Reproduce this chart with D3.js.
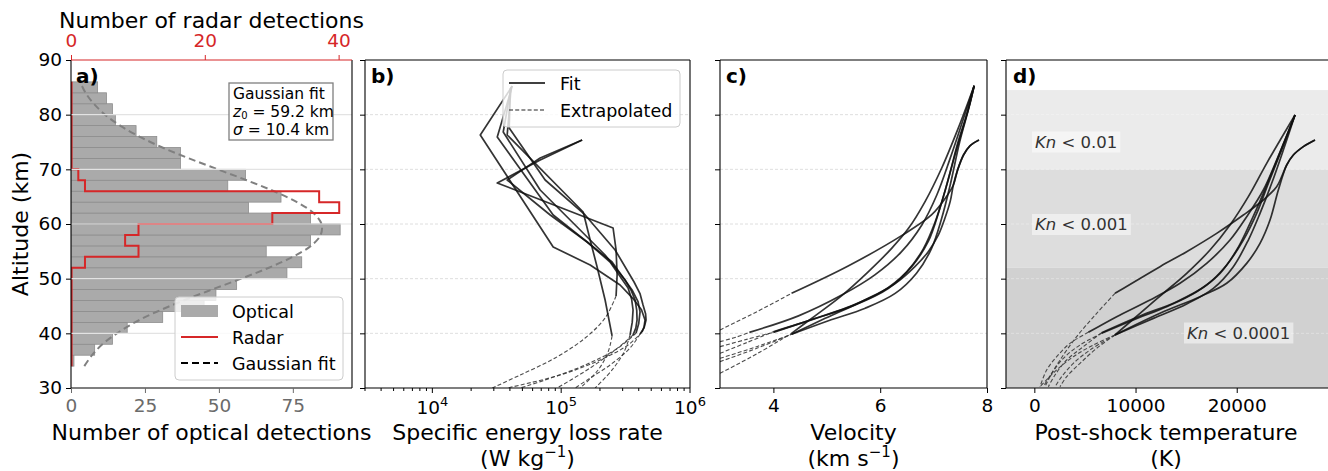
<!DOCTYPE html>
<html>
<head>
<meta charset="utf-8">
<script src="https://cdn.jsdelivr.net/npm/d3@7"></script>
<style>
body { margin: 0; background: #fff; }
svg { font-family: "DejaVu Sans", sans-serif; }
</style>
</head>
<body>
<svg id="chart" width="1328" height="471"></svg>
<script>
// ---- data ----
const binEdges = [34,36,38,40,42,44,46,48,50,52,54,56,58,60,62,64,66,68,70,72,74,76,78,80,82,84,86]
const opticalCounts = [1,8,14,19,31,45,49,56,73,78,66,81,91,81,60,71,53,59,37,37,29,22,15,14,12,9]
const radarCounts = [0,0,0,0,0,0,0,0,0,2,10,8,10,30,40,37,2,1,0,0,0,0,0,0,0,0]

// gaussian fit curve (z0 = 59.2 km, sigma = 10.4 km) sampled every 2 km
const gaussAlt = [34,36,38,40,42,44,46,48,50,52,54,56,58,60,62,64,66,68,70,72,74,76,78,80,82,84,86]
const gaussCounts = [4.5,7.1,10.6,15.5,21.6,29.2,38.0,47.6,57.5,66.9,75.0,81.1,84.4,84.7,82.0,76.4,68.6,59.4,49.6,39.9,30.9,23.1,16.6,11.5,7.7,4.9,3.1]

const altTicks = [30,40,50,60,70,80,90]
const opticalTicks = [0,25,50,75]
const radarTicks = [0,20,40]
const velocityTicks = [4,6,8]
const tempTicks = [0,10000,20000]
const energyTicks = [1e4,1e5,1e6]

// [value, altitude] pairs per meteor
const energyFit = [
  [[41700,85.24],[23550,76.28],[86700,55.8],[167900,52.5],[286700,48.84],[360000,46.4],[420000,44.3],[447700,42.44],[440000,41.2],[424600,40.25]],
  [[41700,85.24],[31900,75.92],[86700,61.65],[159100,56.71],[248400,53.05],[355000,47.93],[395000,45.8],[409500,43.91],[400000,41.8],[381300,40.06]],
  [[40900,85.06],[38100,76.28],[148200,62.2],[167900,57.08],[190100,52.14],[219300,46.1],[248400,39.52]],
  [[40300,84.88],[39500,77.56],[75100,68.05],[153500,61.65],[262300,55.25],[367900,49.39],[410000,47.2],[432000,45.19],[452000,43.6],[455800,42.44],[440000,41.0],[409500,39.88]],
  [[40900,85.06],[35500,76.83],[68700,66.22],[128400,59.82],[219300,54.33],[313500,49.76],[350000,47.8],[374800,46.1],[386000,44.2],[388200,42.44],[380000,41.0],[361400,39.7]],
  [[145500,75.37],[68700,71.71],[31900,67.5],[252900,59.27],[266800,55.25],[271800,50.67],[266800,46.83]],
  [[145500,75.37],[68700,72.07],[38100,68.05],[82200,61.65],[159100,56.71],[239700,53.05],[330600,48.3],[352000,46.3],[361400,44.27],[356000,42.0],[342600,39.7]]
]
const energyExtrap = [
  [[424600,40.25],[330600,37.87],[200600,35.13],[98200,32.38],[38100,30.0]],
  [[381300,40.06],[276700,37.32],[153500,34.21],[75100,31.47],[48100,30.0]],
  [[248400,39.52],[231300,36.59],[193600,33.3],[140400,30.0]],
  [[409500,39.88],[342600,37.32],[239700,34.21],[167900,31.83],[128400,30.0]],
  [[361400,39.7],[262300,36.95],[167900,33.66],[93100,30.0]],
  [[266800,46.83],[219300,42.81],[153500,39.15],[89800,35.5],[48100,32.38],[29200,30.0]],
  [[342600,39.7],[307600,36.59],[248400,33.3],[183600,30.0]]
]

const velocityFit = [
  [[4.34,47.32],[5.40,52.32],[6.40,57.87],[6.96,61.65],[7.24,65.0],[7.37,67.13],[7.45,69.9],[7.56,72.62],[7.68,74.3],[7.85,75.37]],
  [[4.34,39.82],[4.97,42.74],[5.65,45.8],[6.28,49.1],[6.65,52.2],[6.90,54.94],[7.09,58.0],[7.21,61.0],[7.31,64.09],[7.37,67.13],[7.45,69.9],[7.56,72.62],[7.68,74.3],[7.85,75.37]],
  [[3.55,40.18],[4.47,43.2],[5.28,47.0],[5.90,50.7],[6.40,54.94],[6.78,59.82],[7.06,65.3],[7.31,72.0],[7.56,79.3],[7.76,85.3]],
  [[4.0,40.18],[4.65,42.3],[5.40,44.8],[6.03,47.6],[6.50,51.3],[6.81,55.5],[7.03,60.4],[7.21,65.9],[7.40,72.6],[7.60,79.3],[7.76,85.3]],
  [[4.0,40.3],[4.78,42.7],[5.53,45.2],[6.15,48.2],[6.59,52.2],[6.90,56.8],[7.10,62.3],[7.28,68.4],[7.46,75.1],[7.64,80.6],[7.76,85.3]],
  [[4.34,40.0],[4.78,43.2],[5.28,46.9],[5.78,51.3],[6.21,55.5],[6.53,59.2],[6.84,64.1],[7.15,70.2],[7.46,77.5],[7.76,85.3]],
  [[4.34,39.82],[5.03,42.3],[5.72,44.6],[6.28,47.3],[6.68,51.0],[6.96,55.5],[7.15,61.0],[7.31,67.1],[7.49,75.1],[7.66,81.2],[7.76,85.3]]
]
const velocityExtrap = [
  [[3.0,40.61],[3.7,44.0],[4.34,47.32]],
  [[3.0,34.82],[3.7,37.3],[4.34,39.82]],
  [[3.0,38.48],[3.3,39.3],[3.55,40.18]],
  [[3.0,37.56],[3.5,38.9],[4.0,40.18]],
  [[3.0,36.34],[3.5,38.3],[4.0,40.3]],
  [[3.0,32.68],[3.7,36.3],[4.34,40.0]],
  [[3.0,35.43],[3.7,37.6],[4.34,39.82]]
]

const tempFit = [
  [[7971,47.32],[12418,52.2],[15054,54.94],[18018,58.29],[20653,61.65],[22630,64.39],[23947,66.83],[24441,68.66],[24936,70.79],[25594,72.62],[26583,74.15],[27735,75.37]],
  [[7971,39.7],[12418,43.66],[16371,46.71],[19006,49.15],[20983,52.8],[22300,56.46],[23289,60.73],[24112,66.22],[24936,70.79],[25594,72.62],[26583,74.15],[27735,75.37]],
  [[5336,40.18],[8136,43.05],[11430,46.1],[14395,49.15],[17030,52.8],[19336,57.07],[20983,61.34],[22630,66.22],[23947,71.71],[25759,79.94]],
  [[6654,40.0],[9783,42.44],[13077,44.88],[16042,47.62],[18348,50.98],[19995,55.24],[21312,60.12],[22630,65.61],[24112,72.32],[25759,79.94]],
  [[6654,40.12],[10442,43.17],[14065,45.79],[17030,48.84],[19006,52.5],[20653,57.07],[21971,61.95],[23124,67.44],[24441,73.54],[25759,79.94]],
  [[7971,39.7],[10442,43.66],[12748,47.32],[15054,50.98],[17359,55.24],[19336,59.82],[21147,65.0],[22959,71.1],[25759,79.94]],
  [[7971,39.7],[11760,42.74],[15054,45.37],[17689,48.23],[19665,52.2],[21147,57.07],[22300,61.95],[23453,67.44],[24606,73.54],[25759,79.94]]
]
const tempExtrap = [
  [[7971,47.32],[6160,43.66],[4183,39.39],[2536,35.12],[1548,32.07],[1054,30.24]],
  [[7971,39.7],[5830,37.87],[3854,35.73],[2207,33.3],[1054,31.2],[560,30.24]],
  [[5336,40.18],[3525,38.17],[2207,35.73],[1219,33.29],[560,30.24]],
  [[6654,40.0],[4513,37.87],[2866,35.43],[1713,32.68],[889,30.24]],
  [[6654,40.12],[4842,37.56],[3195,35.12],[2042,32.38],[1383,30.24]],
  [[7971,39.7],[5501,36.95],[3854,34.51],[2701,32.07],[2042,30.24]],
  [[7971,39.7],[6160,37.26],[4513,34.51],[3195,32.07],[2536,30.24]]
]

// Knudsen regimes: [top, bottom] altitude, label
const knBands = [[84.5,70],[70,52],[52,30]]
const knColors = ["#ebebeb","#dddddd","#d1d1d1"]
const knLabels = ["0.01","0.001","0.0001"]

// ---- layout ----
const svg = d3.select("#chart")
const yTop = 60, yBot = 388
const y = d3.scaleLinear().domain([30,90]).range([yBot,yTop])

const xa = d3.scaleLinear().domain([0,95]).range([71,352])
const xr = d3.scaleLinear().domain([0,42]).range([71,352])
const xb = d3.scaleLog().domain([3000,1e6]).range([365,690])
const xc = d3.scaleLinear().domain([3,8]).range([720,987])
const xd = d3.scaleLinear().domain([-2800,28920]).range([1006,1327])

const TICK = 18.5, LABEL = 22

function clip(id, x0, x1) {
  svg.append("clipPath").attr("id", id)
    .append("rect").attr("x", x0).attr("y", yTop).attr("width", x1 - x0).attr("height", yBot - yTop)
}

function leftAxis(x0, labels) {
  const g = svg.append("g").attr("transform", `translate(${x0},0)`)
    .call(d3.axisLeft(y).tickValues(altTicks).tickSize(5).tickPadding(4)
      .tickFormat(labels ? d3.format("d") : ""))
  g.select(".domain").remove()
  g.selectAll("text").attr("font-size", TICK).attr("fill", "#000").attr("font-family", "DejaVu Sans")
  g.selectAll("line").attr("stroke", "#000")
  return g
}

function bottomAxis(scale, ticks, fmt, color) {
  const g = svg.append("g").attr("transform", `translate(0,${yBot})`)
    .call(d3.axisBottom(scale).tickValues(ticks).tickSize(5).tickPadding(6).tickFormat(fmt))
  g.select(".domain").remove()
  g.selectAll("text").attr("font-size", TICK).attr("fill", color || "#000").attr("font-family", "DejaVu Sans")
  g.selectAll("line").attr("stroke", color || "#000")
  return g
}

function gridLines(x0, x1, color, dash, width) {
  svg.append("g").selectAll("line").data(altTicks.slice(1, -1)).join("line")
    .attr("x1", x0).attr("x2", x1)
    .attr("y1", d => y(d)).attr("y2", d => y(d))
    .attr("stroke", color).attr("stroke-width", width || 0.8)
    .attr("stroke-dasharray", dash)
}

function frame(x0, x1, topColor, noRight) {
  const g = svg.append("g").attr("fill", "none").attr("stroke-width", 1.1)
  g.append("line").attr("x1", x0).attr("x2", x0).attr("y1", yTop).attr("y2", yBot).attr("stroke", "#000")
  if (!noRight) g.append("line").attr("x1", x1).attr("x2", x1).attr("y1", yTop).attr("y2", yBot).attr("stroke", "#000")
  g.append("line").attr("x1", x0).attr("x2", x1).attr("y1", yBot).attr("y2", yBot).attr("stroke", "#000")
  g.append("line").attr("x1", x0).attr("x2", x1).attr("y1", yTop).attr("y2", yTop).attr("stroke", topColor || "#000")
}

function panelLetter(x, txt) {
  svg.append("text").attr("x", x).attr("y", 83).attr("font-size", 20).attr("font-weight", "bold").text(txt)
}

function bottomLabel(cx, line1, unitParts) {
  svg.append("text").attr("x", cx).attr("y", 440).attr("text-anchor", "middle")
    .attr("font-size", LABEL).text(line1)
  if (unitParts) {
    const t = svg.append("text").attr("x", cx).attr("y", 466).attr("text-anchor", "middle").attr("font-size", LABEL)
    t.append("tspan").text(unitParts[0])
    if (unitParts[1]) {
      t.append("tspan").attr("dy", -9).attr("font-size", 15).text(unitParts[1])
      t.append("tspan").attr("dy", 9).attr("font-size", LABEL).text(unitParts[2])
    }
  }
}

function drawMeteors(id, scale, fits, extraps, curve) {
  const line = d3.line().x(d => scale(d[0])).y(d => y(d[1])).curve(curve)
  const dashLine = d3.line().x(d => scale(d[0])).y(d => y(d[1])).curve(d3.curveCatmullRom.alpha(0.5))
  const g = svg.append("g").attr("clip-path", `url(#${id})`).attr("fill", "none")
  g.selectAll("path.ex").data(extraps).join("path").attr("class", "ex")
    .attr("d", dashLine).attr("stroke", "#3a3a3a").attr("stroke-width", 1.1)
    .attr("stroke-dasharray", "4,2.2").attr("opacity", 0.9)
  g.selectAll("path.fit").data(fits).join("path").attr("class", "fit")
    .attr("d", line).attr("stroke", "#111").attr("stroke-width", 1.7).attr("opacity", 0.85)
    .attr("stroke-linejoin", "round")
}

// ================= panel a =================
clip("clipA", 71, 352)
const ga = svg.append("g").attr("clip-path", "url(#clipA)")
ga.selectAll("rect.bar").data(opticalCounts).join("rect").attr("class", "bar")
  .attr("x", xa(0))
  .attr("y", (d, i) => y(binEdges[i + 1]))
  .attr("width", d => xa(d) - xa(0))
  .attr("height", (d, i) => y(binEdges[i]) - y(binEdges[i + 1]))
  .attr("fill", "#aaaaaa").attr("stroke", "#8d8d8d").attr("stroke-width", 0.8)

gridLines(71, 352, "#e3e3e3", null, 1.2)

const gaussLine = d3.line().x(d => xa(d[1])).y(d => y(d[0])).curve(d3.curveCatmullRom)
ga.append("path").datum(gaussAlt.map((a, i) => [a, gaussCounts[i]]))
  .attr("d", gaussLine).attr("fill", "none").attr("stroke", "#808080")
  .attr("stroke-width", 2).attr("stroke-dasharray", "7,4")

const stepPts = [[0, binEdges[0]]]
radarCounts.forEach((c, i) => { stepPts.push([c, binEdges[i]]); stepPts.push([c, binEdges[i + 1]]) })
stepPts.push([0, binEdges[binEdges.length - 1]])
ga.append("path").datum(stepPts)
  .attr("d", d3.line().x(d => xr(d[0]) + 0.6).y(d => y(d[1])))
  .attr("fill", "none").attr("stroke", "#d62728").attr("stroke-width", 2)

frame(71, 352, "#d62728")
leftAxis(71, true)
bottomAxis(xa, opticalTicks, d3.format("d"), "#6b6b6b")
const topAx = svg.append("g").attr("transform", `translate(0,${yTop})`)
  .call(d3.axisTop(xr).tickValues(radarTicks).tickSize(5).tickPadding(8))
topAx.select(".domain").remove()
topAx.selectAll("text").attr("font-size", TICK).attr("fill", "#d62728").attr("font-family", "DejaVu Sans")
topAx.selectAll("line").attr("stroke", "#d62728")

svg.append("text").attr("x", 211.5).attr("y", 27.5).attr("text-anchor", "middle")
  .attr("font-size", LABEL).text("Number of radar detections")
bottomLabel(211.5, "Number of optical detections")
svg.append("text").attr("transform", "translate(28,224) rotate(-90)")
  .attr("text-anchor", "middle").attr("font-size", LABEL).text("Altitude (km)")

// legend a
const la = svg.append("g")
la.append("rect").attr("x", 175).attr("y", 297).attr("width", 168).attr("height", 83).attr("rx", 4)
  .attr("fill", "#fff").attr("fill-opacity", 0.8).attr("stroke", "#cccccc")
la.append("rect").attr("x", 181).attr("y", 305).attr("width", 37).attr("height", 12).attr("fill", "#aaaaaa")
la.append("line").attr("x1", 181).attr("x2", 218).attr("y1", 337).attr("y2", 337)
  .attr("stroke", "#d62728").attr("stroke-width", 2)
la.append("line").attr("x1", 181).attr("x2", 218).attr("y1", 363).attr("y2", 363)
  .attr("stroke", "#000").attr("stroke-width", 2).attr("stroke-dasharray", "7,4")
;["Optical", "Radar", "Gaussian fit"].forEach((t, i) => {
  la.append("text").attr("x", 232).attr("y", 317.5 + i * 26).attr("font-size", 17.5).text(t)
})

// fit parameter box
const tb = svg.append("g")
tb.append("rect").attr("x", 229).attr("y", 83).attr("width", 104).attr("height", 57)
  .attr("fill", "#fff").attr("stroke", "#7f7f7f").attr("stroke-width", 1.3)
tb.append("text").attr("x", 233).attr("y", 99).attr("font-size", 15.5).text("Gaussian fit")
const z0 = tb.append("text").attr("x", 233).attr("y", 116.5).attr("font-size", 15.5)
z0.append("tspan").attr("font-style", "italic").text("z")
z0.append("tspan").attr("dy", 2.5).attr("font-size", 10).text("0")
z0.append("tspan").attr("dy", -2.5).text(" = 59.2 km")
const sg = tb.append("text").attr("x", 233).attr("y", 134.5).attr("font-size", 15.5)
sg.append("tspan").attr("font-style", "italic").text("σ")
sg.append("tspan").text(" = 10.4 km")

panelLetter(76, "a)")

// ================= panel b =================
clip("clipB", 365, 690)
gridLines(365, 690, "#d6d6d6", "3,2")
drawMeteors("clipB", xb, energyFit, energyExtrap, d3.curveLinear)
frame(365, 690)
leftAxis(365, false)
const bAx = svg.append("g").attr("transform", `translate(0,${yBot})`)
const minor = []
;[1e3, 1e4, 1e5].forEach(dec => { for (let k = 2; k <= 9; k++) if (dec * k >= 3000) minor.push(dec * k) })
bAx.selectAll("line.minor").data(minor).join("line").attr("class", "minor")
  .attr("x1", d => xb(d)).attr("x2", d => xb(d)).attr("y1", 0).attr("y2", 3).attr("stroke", "#000")
bAx.selectAll("line.major").data(energyTicks).join("line").attr("class", "major")
  .attr("x1", d => xb(d)).attr("x2", d => xb(d)).attr("y1", 0).attr("y2", 5).attr("stroke", "#000")
energyTicks.forEach(v => {
  const t = bAx.append("text").attr("x", xb(v)).attr("y", 25.5).attr("text-anchor", "middle").attr("font-size", TICK)
  t.append("tspan").text("10")
  t.append("tspan").attr("dy", -8).attr("font-size", 13).text(String(Math.round(Math.log10(v))))
})
bottomLabel(527.5, "Specific energy loss rate", ["(W kg", "−1", ")"])

const lb = svg.append("g")
lb.append("rect").attr("x", 503).attr("y", 70).attr("width", 177).attr("height", 57).attr("rx", 4)
  .attr("fill", "#fff").attr("fill-opacity", 0.8).attr("stroke", "#cccccc")
lb.append("line").attr("x1", 509).attr("x2", 545).attr("y1", 83).attr("y2", 83)
  .attr("stroke", "#000").attr("stroke-width", 1.7)
lb.append("line").attr("x1", 509).attr("x2", 545).attr("y1", 110).attr("y2", 110)
  .attr("stroke", "#222").attr("stroke-width", 1.1).attr("stroke-dasharray", "4,2.2")
lb.append("text").attr("x", 560).attr("y", 89.5).attr("font-size", 17.5).text("Fit")
lb.append("text").attr("x", 560).attr("y", 116.5).attr("font-size", 17.5).text("Extrapolated")
panelLetter(371, "b)")

// ================= panel c =================
clip("clipC", 720, 987)
gridLines(720, 987, "#d6d6d6", "3,2")
drawMeteors("clipC", xc, velocityFit, velocityExtrap, d3.curveCatmullRom.alpha(0.5))
frame(720, 987)
leftAxis(720, false)
bottomAxis(xc, velocityTicks, d3.format("d"))
bottomLabel(853.5, "Velocity", ["(km s", "−1", ")"])
panelLetter(726, "c)")

// ================= panel d =================
clip("clipD", 1006, 1328)
const gd = svg.append("g").attr("clip-path", "url(#clipD)")
gd.selectAll("rect").data(knBands).join("rect")
  .attr("x", 1006).attr("width", 322)
  .attr("y", d => y(d[0])).attr("height", d => y(d[1]) - y(d[0]))
  .attr("fill", (d, i) => knColors[i])
gridLines(1006, 1328, "rgba(255,255,255,0.4)", "3,2")
drawMeteors("clipD", xd, tempFit, tempExtrap, d3.curveCatmullRom.alpha(0.5))
frame(1006, 1328, "#000", true)
leftAxis(1006, false)
bottomAxis(xd, tempTicks, d3.format("d"))
bottomLabel(1166, "Post-shock temperature", ["(K)"])
panelLetter(1013, "d)")

const knPos = [[1035, 147.5], [1035, 230], [1187, 338.5]]
knLabels.forEach((lab, i) => {
  const g = svg.append("g")
  const t = g.append("text").attr("x", knPos[i][0]).attr("y", knPos[i][1]).attr("font-size", 16.5).attr("fill", "#333")
  t.append("tspan").attr("font-style", "italic").text("Kn")
  t.append("tspan").text(" < " + lab)
  const bb = t.node().getBBox()
  g.insert("rect", "text").attr("x", bb.x - 3).attr("y", bb.y - 1).attr("width", bb.width + 6).attr("height", bb.height + 2)
    .attr("fill", "#fff").attr("fill-opacity", 0.5)
})
</script>
</body>
</html>
